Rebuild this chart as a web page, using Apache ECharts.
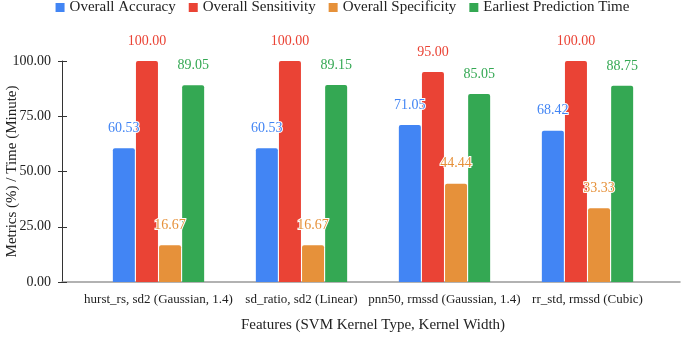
<!DOCTYPE html>
<html>
<head>
<meta charset="utf-8">
<script src="https://cdn.jsdelivr.net/npm/echarts@6/dist/echarts.min.js"></script>
<style>
  html, body { margin: 0; padding: 0; background: #fff; }
  #chart { width: 685px; height: 337px; }
</style>
</head>
<body>
<div id="chart"></div>
<script>
// categories and values
const categories = [
  'hurst_rs, sd2 (Gaussian, 1.4)',
  'sd_ratio, sd2 (Linear)',
  'pnn50, rmssd (Gaussian, 1.4)',
  'rr_std, rmssd (Cubic)'
]
const accuracy = [60.53, 60.53, 71.05, 68.42]
const sensitivity = [100.00, 100.00, 95.00, 100.00]
const specificity = [16.67, 16.67, 44.44, 33.33]
const predictionTime = [89.05, 89.15, 85.05, 88.75]
const yTicks = [0, 25, 50, 75, 100]

const fontFamily = '"Liberation Serif", "DejaVu Serif", serif'

function makeSeries(name, data, color) {
  return {
    name: name,
    type: 'bar',
    data: data,
    barWidth: 22,
    barGap: '5%',
    itemStyle: {
      color: color,
      borderRadius: [2, 2, 0, 0]
    },
    label: {
      show: true,
      position: 'top',
      distance: 13,
      color: color,
      fontFamily: fontFamily,
      fontSize: 14,
      textBorderColor: '#fff',
      textBorderWidth: 2,
      formatter: p => p.value.toFixed(2)
    }
  }
}

const myChart = echarts.init(document.getElementById('chart'))
const option = {
  animation: false,
  textStyle: { fontFamily: fontFamily },
  legend: {
    top: 0,
    left: 'center',
    padding: 0,
    itemWidth: 9,
    itemHeight: 9,
    itemGap: 13,
    icon: 'rect',
    textStyle: { fontSize: 15, color: '#222', fontFamily: fontFamily },
    data: ['Overall Accuracy', 'Overall Sensitivity', 'Overall Specificity', 'Earliest Prediction Time']
  },
  grid: [
    { left: 87, right: 26, top: 61, bottom: 55, outerBoundsMode: 'none' },
    // wider grid for the long baseline and the inner half of the ticks
    { left: 62, right: 5, top: 61, bottom: 55, outerBoundsMode: 'none' }
  ],
  xAxis: [
    {
      type: 'category',
      gridIndex: 0,
      data: categories,
      axisLine: { show: false },
      axisTick: { show: false },
      axisLabel: { color: '#222', fontSize: 13, margin: 11, interval: 0 },
      name: 'Features (SVM Kernel Type, Kernel Width)',
      nameLocation: 'middle',
      nameGap: 36,
      nameMoveOverlap: false,
      nameTextStyle: { fontSize: 15, color: '#222' }
    },
    {
      type: 'value',
      gridIndex: 1,
      axisLine: { show: true, lineStyle: { color: '#999', width: 1.5 } },
      axisTick: { show: false },
      axisLabel: { show: false },
      splitLine: { show: false }
    }
  ],
  yAxis: [
    {
      type: 'value',
      gridIndex: 0,
      min: yTicks[0],
      max: yTicks[yTicks.length - 1],
      interval: 25,
      offset: 25,
      axisLine: { show: true, lineStyle: { color: '#333' } },
      axisTick: { show: true, length: 4, lineStyle: { color: '#333' } },
      axisLabel: { color: '#222', fontSize: 14, margin: 11, formatter: v => v.toFixed(2) },
      splitLine: { show: false },
      name: 'Metrics (%) / Time (Minute)',
      nameLocation: 'middle',
      nameGap: 42,
      nameMoveOverlap: false,
      nameTextStyle: { fontSize: 15, color: '#222' }
    },
    {
      type: 'value',
      gridIndex: 1,
      min: yTicks[0],
      max: yTicks[yTicks.length - 1],
      interval: 25,
      axisLine: { show: false },
      axisTick: { show: true, inside: true, length: 5, lineStyle: { color: '#333' } },
      axisLabel: { show: false },
      splitLine: { show: false }
    }
  ],
  series: [
    makeSeries('Overall Accuracy', accuracy, '#4285F4'),
    makeSeries('Overall Sensitivity', sensitivity, '#EA4335'),
    makeSeries('Overall Specificity', specificity, '#E6913A'),
    makeSeries('Earliest Prediction Time', predictionTime, '#34A853')
  ]
}
myChart.setOption(option)
</script>
</body>
</html>
